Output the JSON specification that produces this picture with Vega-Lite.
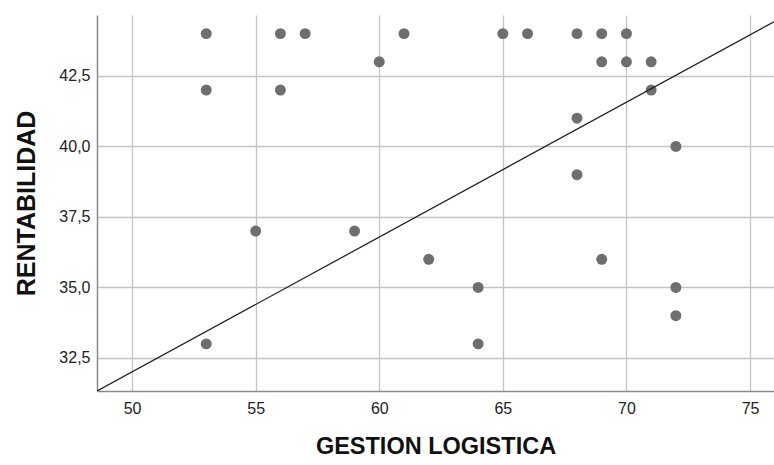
{
  "$schema": "https://vega.github.io/schema/vega-lite/v6.json",
  "autosize": "none",
  "width": 677,
  "height": 376,
  "padding": {"left": 97, "top": 15, "right": 0, "bottom": 74},
  "background": "white",
  "config": {
    "view": {"stroke": null},
    "axis": {
      "labelFont": "Liberation Sans",
      "titleFont": "Liberation Sans",
      "labelFontSize": 16,
      "labelColor": "#222222",
      "titleFontWeight": "bold",
      "titleColor": "#111111",
      "gridColor": "#c4c4c4",
      "gridWidth": 1.3,
      "domainColor": "#8a8a8a",
      "domainWidth": 1.5,
      "ticks": false
    }
  },
  "datasets": {
    "points": [
      {"x": 53, "y": 44}, {"x": 53, "y": 42}, {"x": 53, "y": 33},
      {"x": 55, "y": 37},
      {"x": 56, "y": 44}, {"x": 56, "y": 42},
      {"x": 57, "y": 44},
      {"x": 59, "y": 37},
      {"x": 60, "y": 43},
      {"x": 61, "y": 44},
      {"x": 62, "y": 36},
      {"x": 64, "y": 35}, {"x": 64, "y": 33},
      {"x": 65, "y": 44},
      {"x": 66, "y": 44},
      {"x": 68, "y": 44}, {"x": 68, "y": 41}, {"x": 68, "y": 39},
      {"x": 69, "y": 44}, {"x": 69, "y": 43}, {"x": 69, "y": 36},
      {"x": 70, "y": 44}, {"x": 70, "y": 43},
      {"x": 71, "y": 43}, {"x": 71, "y": 42},
      {"x": 72, "y": 40}, {"x": 72, "y": 35}, {"x": 72, "y": 34}
    ],
    "fit": [
      {"x": 48.58, "y": 31.33},
      {"x": 75.97, "y": 44.42}
    ]
  },
  "layer": [
    {
      "data": {"name": "points"},
      "mark": {"type": "point", "filled": true, "size": 120, "color": "#6e6e6e", "opacity": 1},
      "encoding": {
        "x": {
          "field": "x", "type": "quantitative",
          "scale": {"domain": [48.58, 75.97], "nice": false, "zero": false},
          "axis": {"title": "GESTION LOGISTICA", "titleFontSize": 23.5, "values": [50, 55, 60, 65, 70, 75], "labelPadding": 9, "titlePadding": 18}
        },
        "y": {
          "field": "y", "type": "quantitative",
          "scale": {"domain": [31.33, 44.66], "nice": false, "zero": false},
          "axis": {
            "title": "RENTABILIDAD",
            "titleFontSize": 25,
            "values": [32.5, 35, 37.5, 40, 42.5],
            "labelExpr": "replace(format(datum.value, '.1f'), '.', ',')",
            "labelPadding": 7,
            "titlePadding": 19
          }
        }
      }
    },
    {
      "data": {"name": "fit"},
      "mark": {"type": "line", "color": "#222222", "strokeWidth": 1.3, "clip": true},
      "encoding": {
        "x": {"field": "x", "type": "quantitative"},
        "y": {"field": "y", "type": "quantitative"}
      }
    }
  ]
}
